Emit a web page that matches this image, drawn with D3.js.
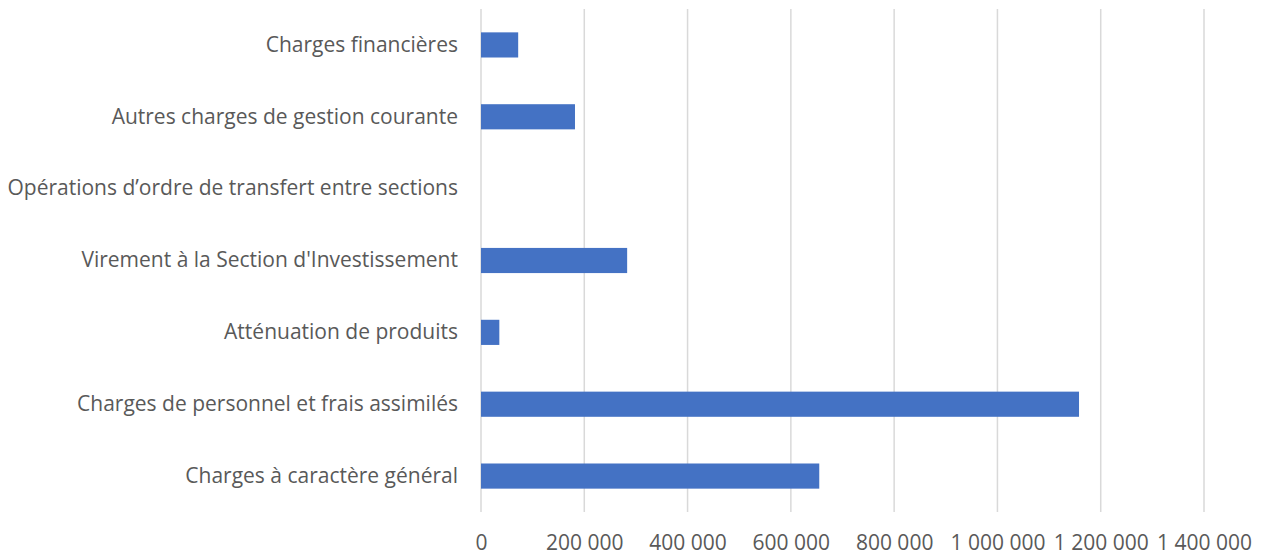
<!DOCTYPE html>
<html><head><meta charset="utf-8">
<script src="https://cdn.jsdelivr.net/npm/d3@7"></script>
<style>body{margin:0;background:#fff}svg{display:block}</style>
</head><body>
<svg id="c" width="1263" height="556"></svg>
<script>
const categories = [
  "Charges financières",
  "Autres charges de gestion courante",
  "Opérations d’ordre de transfert entre sections",
  "Virement à la Section d'Investissement",
  "Atténuation de produits",
  "Charges de personnel et frais assimilés",
  "Charges à caractère général"
];
const values = [72000, 182000, 0, 283000, 35500, 1158000, 655000];
const tickValues = [0, 200000, 400000, 600000, 800000, 1000000, 1200000, 1400000];

(function () {
const svg = d3.select("#c");
const font = "'Open Sans', Lato, sans-serif";
const fs = 21;
const pL = 481, pR = 1204, pT = 9, pB = 512;
const x = d3.scaleLinear().domain([0, 1400000]).range([pL, pR]);
const y = d3.scaleBand().domain(categories).range([pT, pB]).paddingInner(0.65).paddingOuter(0.325);
const fmt = v => d3.format(",")(v).replace(/,/g, " ");

svg.append("g").selectAll("line").data(tickValues).join("line")
  .attr("x1", d => x(d)).attr("x2", d => x(d))
  .attr("y1", pT).attr("y2", pB)
  .attr("stroke", "#d9d9d9").attr("stroke-width", 1.5);

svg.append("g").selectAll("rect").data(values).join("rect")
  .attr("x", x(0)).attr("y", (d, i) => y(categories[i]))
  .attr("width", d => x(d) - x(0)).attr("height", y.bandwidth())
  .attr("fill", "#4472c4");

const xa = svg.append("g").attr("transform", `translate(0,${pB})`)
  .call(d3.axisBottom(x).tickValues(tickValues).tickFormat(fmt).tickSize(0).tickPadding(23));
xa.select(".domain").remove();
xa.selectAll("text").attr("font-family", font).attr("font-size", fs).attr("fill", "#595959");

const ya = svg.append("g").attr("transform", `translate(${pL},0)`)
  .call(d3.axisLeft(y).tickSize(0).tickPadding(23));
ya.select(".domain").remove();
ya.selectAll("text").attr("font-family", font).attr("font-size", fs).attr("fill", "#595959");
})();
</script>
</body></html>
